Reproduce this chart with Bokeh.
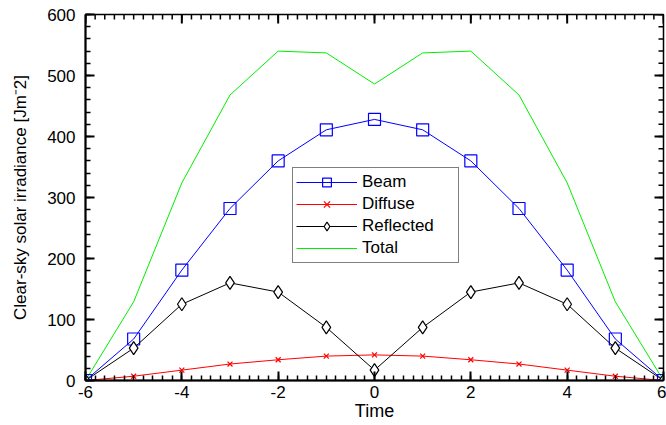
from bokeh.plotting import figure
from bokeh.models import LinearAxis, SingleIntervalTicker, Range1d, Legend, LegendItem
from bokeh.embed import file_html
from bokeh.resources import INLINE

# ---- data ----
time = [-6, -5, -4, -3, -2, -1, 0, 1, 2, 3, 4, 5, 6]
beam = [0, 68, 181, 282, 360, 411, 428, 411, 360, 282, 181, 68, 0]
diffuse = [0, 7, 17, 27, 34, 40, 42, 40, 34, 27, 17, 7, 0]
reflected = [0, 53, 125, 160, 145, 87, 17, 87, 145, 160, 125, 53, 0]
total = [0, 129, 324, 468, 540, 537, 486, 537, 540, 468, 324, 129, 0]

x_major = [-6, -4, -2, 0, 2, 4, 6]
x_labels = ["-6", "-4", "-2", "0", "2", "4", "6"]
y_major = [0, 100, 200, 300, 400, 500, 600]
x_minor_step = 0.2
y_minor_step = 20

FONT = "Liberation Sans"
X0, X1, Y0, Y1 = -6, 6, 0, 600
FRAME_W, FRAME_H = 578, 366
MAJ, MIN = 9, 5

p = figure(width=666, height=425, output_backend="svg", toolbar_location=None,
           x_range=Range1d(X0, X1), y_range=Range1d(Y0, Y1),
           x_axis_location=None, y_axis_location=None,
           min_border_left=85, min_border_right=3, min_border_top=14,
           min_border_bottom=45)
p.grid.visible = False
p.outline_line_color = "black"
p.outline_line_width = 1.5
p.background_fill_color = "white"
p.border_fill_color = "white"


def style(ax, title_size):
    ax.major_tick_in = MAJ
    ax.major_tick_out = 0
    ax.minor_tick_in = MIN
    ax.minor_tick_out = 0
    ax.axis_line_width = 2
    ax.major_tick_line_width = 2
    ax.minor_tick_line_width = 1.5
    ax.axis_line_color = "black"
    ax.major_tick_line_color = "black"
    ax.minor_tick_line_color = "black"
    ax.major_label_text_font = FONT
    ax.major_label_text_font_size = "17px"
    ax.major_label_text_color = "black"
    ax.axis_label_text_font = FONT
    ax.axis_label_text_font_size = title_size
    ax.axis_label_text_font_style = "normal"
    ax.axis_label_text_color = "black"


bottom = LinearAxis(ticker=SingleIntervalTicker(interval=2, num_minor_ticks=10),
                    axis_label="Time")
style(bottom, "18px")
bottom.major_label_overrides = dict(zip(x_major, x_labels))
bottom.major_label_standoff = 5
bottom.axis_label_standoff = 0
left = LinearAxis(ticker=SingleIntervalTicker(interval=100, num_minor_ticks=5),
                  axis_label="Clear-sky solar irradiance [Jm\u207b2]")
style(left, "17px")
left.major_label_standoff = 10
left.axis_label_standoff = 14
p.add_layout(bottom, "below")
p.add_layout(left, "left")

# inward tick marks on the top and right frame edges
ux = (X1 - X0) / FRAME_W
uy = (Y1 - Y0) / FRAME_H
n_xm = int(round((X1 - X0) / x_minor_step))
n_ym = int(round((Y1 - Y0) / y_minor_step))
xm = [X0 + i * x_minor_step for i in range(n_xm + 1)]
ym = [Y0 + i * y_minor_step for i in range(n_ym + 1)]
p.segment(x0=xm, y0=[Y1] * len(xm), x1=xm, y1=[Y1 - MIN * uy] * len(xm),
          line_color="black", line_width=1.5)
p.segment(x0=x_major, y0=[Y1] * len(x_major), x1=x_major,
          y1=[Y1 - MAJ * uy] * len(x_major), line_color="black", line_width=2)
p.segment(x0=[X1] * len(ym), y0=ym, x1=[X1 - MIN * ux] * len(ym), y1=ym,
          line_color="black", line_width=1.5)
p.segment(x0=[X1] * len(y_major), y0=y_major, x1=[X1 - MAJ * ux] * len(y_major),
          y1=y_major, line_color="black", line_width=2)

lt = p.line(time, total, line_color="#00ee00", line_width=1)
lb = p.line(time, beam, line_color="#0000ff", line_width=1)
sb = p.scatter(time, beam, marker="square", size=12, fill_color=None,
               line_color="#0000ff", line_width=1.2)
ld = p.line(time, diffuse, line_color="#ff0000", line_width=1)
sd = p.scatter(time, diffuse, marker="x", size=7, line_color="#ff0000",
               line_width=1.2)
lr = p.line(time, reflected, line_color="black", line_width=1)
sr = p.scatter(time, reflected, marker="diamond", size=13, fill_color="white",
               line_color="black", line_width=1.2)

legend = Legend(items=[
    LegendItem(label="Beam", renderers=[lb, sb]),
    LegendItem(label="Diffuse", renderers=[ld, sd]),
    LegendItem(label="Reflected", renderers=[lr, sr]),
    LegendItem(label="Total", renderers=[lt]),
], location=(207, 117))
legend.padding = 3
legend.spacing = 0
legend.margin = 0
legend.glyph_width = 61
legend.glyph_height = 22
legend.label_height = 22
legend.label_width = 93
legend.label_standoff = 5
legend.label_text_font = FONT
legend.label_text_font_size = "17px"
legend.label_text_color = "black"
legend.border_line_color = "black"
legend.border_line_width = 1.5
legend.background_fill_color = "white"
legend.background_fill_alpha = 1
p.add_layout(legend, "center")

open("out.html", "w").write(file_html(p, INLINE))
